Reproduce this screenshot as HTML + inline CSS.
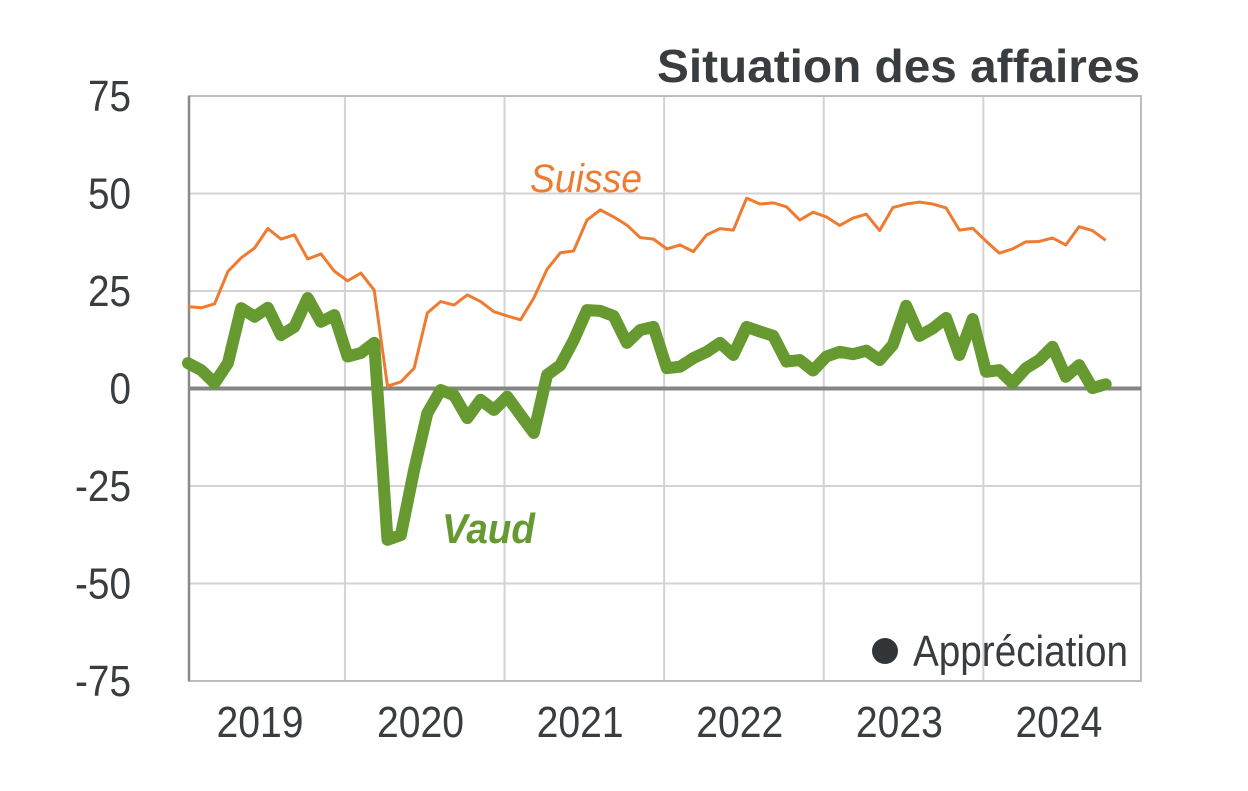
<!DOCTYPE html>
<html><head><meta charset="utf-8"><style>
body{margin:0;background:#fff;}
svg text{font-family:"Liberation Sans Narrow","Liberation Sans",sans-serif;}
</style></head><body>
<svg width="1248" height="786" viewBox="0 0 1248 786">
<g id="grid"></g>
<g id="axes"></g>
<g id="series"></g>
<text x="1140" y="82" text-anchor="end" font-size="46" font-weight="bold" fill="#3a3d3f" textLength="483" lengthAdjust="spacingAndGlyphs" style="font-family:'Liberation Sans',sans-serif">Situation des affaires</text>
<text x="530" y="192" font-size="40" font-style="italic" fill="#ee7b30" textLength="112" lengthAdjust="spacingAndGlyphs" style="font-family:'Liberation Sans',sans-serif">Suisse</text>
<text x="442" y="543" font-size="42" font-style="italic" font-weight="bold" fill="#669a30" textLength="93" lengthAdjust="spacingAndGlyphs" style="font-family:'Liberation Sans',sans-serif">Vaud</text>
<circle cx="885" cy="651" r="13" fill="#333638"/>
<text x="913" y="666" font-size="44" fill="#3a3d3f" textLength="215" lengthAdjust="spacingAndGlyphs">Appréciation</text>
</svg>
<script>
const yTicks=[75,50,25,0,-25,-50,-75];
const yearLabels=["2019","2020","2021","2022","2023","2024"];
const suisse=[21,20.7,21.7,30,33.5,36,41,38.3,39.4,33.2,34.5,30.1,27.6,29.6,25.2,0.6,1.7,5.2,19.4,22.3,21.4,24,22.3,19.7,18.6,17.6,23.2,30.6,34.8,35.3,43.2,45.8,44,41.9,38.7,38.3,35.8,36.8,35.1,39.4,41,40.6,48.8,47.3,47.6,46.6,43.2,45.2,44,41.8,43.7,44.7,40.5,46.4,47.3,47.8,47.3,46.3,40.6,41.1,37.8,34.7,35.8,37.6,37.7,38.6,36.8,41.5,40.5,38];
const vaud=[6.5,4.7,1.4,6.5,20.6,18.4,20.7,13.7,15.8,23.2,17.1,18.8,8.2,9.1,11.7,-38.8,-37.6,-20.9,-6.3,-0.4,-1.7,-7.6,-2.9,-5.5,-2.1,-6.8,-11.4,3.5,6,12.4,20.1,19.9,18.6,11.7,15,15.8,5.2,5.6,7.8,9.4,11.7,8.6,15.8,14.6,13.5,6.9,7.3,4.6,8.2,9.4,8.8,9.7,7.3,11.2,21.2,13.5,15.4,18.1,8.6,17.8,4.3,4.7,1.4,5.2,7.3,10.7,3,6,0.1,1.1];
const NS="http://www.w3.org/2000/svg";
const X0=189,X1=1141,Y0=96,Y1=681;
function xPos(i){return 188+i*13.3;}
function yPos(v){return 388.5-v*3.9;}
function mk(tag,attrs,parent){const e=document.createElementNS(NS,tag);for(const k in attrs)e.setAttribute(k,attrs[k]);parent.appendChild(e);return e;}
const grid=document.getElementById('grid'),axes=document.getElementById('axes'),series=document.getElementById('series');
yTicks.forEach(t=>{
  if(t!==0&&t!==-75){const l=mk('line',{x1:X0,x2:X1,y1:yPos(t),y2:yPos(t),stroke:'#d3d3d3','stroke-width':2},grid);
  
  }
  const s=String(t);
  const w=s.replace('-','').length*21.5+(t<0?13:0);
  const tx=mk('text',{x:131,y:yPos(t)+15,'text-anchor':'end','font-size':44,fill:'#3a3d3f',textLength:w,lengthAdjust:'spacingAndGlyphs'},axes);
  tx.textContent=s;
  
  
});
yearLabels.forEach((y,k)=>{
  const bx=xPos(11.8+12*k);
  if(k<5){const l=mk('line',{x1:bx,x2:bx,y1:Y0,y2:Y1,stroke:'#d3d3d3','stroke-width':2},grid);
  
  }
  const cx=k===0?260:bx-84;
  const tx=mk('text',{x:cx,y:737,'text-anchor':'middle','font-size':44,fill:'#3a3d3f',textLength:87,lengthAdjust:'spacingAndGlyphs'},axes);
  tx.textContent=y;
  
  
});
const frame=mk('path',{d:`M${X0},${Y0}H${X1}V${Y1}H${X0}Z`,fill:'none',stroke:'#bdbdbd','stroke-width':2},axes);


const yax=mk('line',{x1:X0,x2:X0,y1:Y0,y2:Y1,stroke:'#8a8a8a','stroke-width':2.5},axes);


const zl=mk('line',{x1:X0,x2:X1,y1:yPos(0),y2:yPos(0),stroke:'#858585','stroke-width':4},axes);


const ps=mk('polyline',{points:suisse.map((v,i)=>xPos(i)+','+yPos(v)).join(' '),fill:'none',stroke:'#ee7b30','stroke-width':3,'stroke-linejoin':'round'},series);


const pv=mk('polyline',{points:vaud.map((v,i)=>xPos(i)+','+yPos(v)).join(' '),fill:'none',stroke:'#669a30','stroke-width':12,'stroke-linejoin':'round','stroke-linecap':'round'},series);


</script>
</body></html>
